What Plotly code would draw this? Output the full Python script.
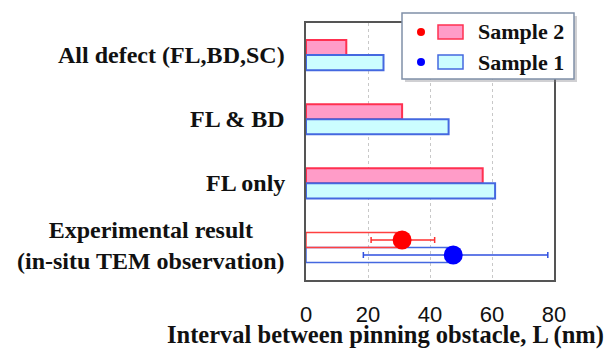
import plotly.graph_objects as go

categories = ["All defect (FL,BD,SC)", "FL & BD", "FL only",
              "Experimental result<br>(in-situ TEM observation)"]
sim_categories = categories[:3]
exp_category = categories[3]
sample2_sim = [13, 31, 57]
sample1_sim = [25, 46, 61]
sample2_exp = 31
sample2_exp_lo = 21
sample2_exp_hi = 41.5
sample1_exp = 47.5
sample1_exp_lo = 18.5
sample1_exp_hi = 78
series_names = ["Sample 2", "Sample 1"]
x_ticks = [0, 20, 40, 60, 80]
x_title = "Interval between pinning obstacle, L (nm)"

W, H = 611, 352
L, R, T, B = 306, 554, 23, 280

PINK = "#ff9cc8"
PINK_LINE = "#ff3050"
CYAN = "#ccfdff"
BLUE_LINE = "#4468e0"
SERIF = "Liberation Serif, Times New Roman, serif"

def px(X):
    return (X - L) / (R - L)

def py(Y):
    return (B - Y) / (B - T)

fig = go.Figure()
fig.add_trace(go.Bar(y=sim_categories, x=sample2_sim, orientation="h", name=series_names[0],
                     offsetgroup="s2", marker=dict(color=PINK, line=dict(color=PINK_LINE, width=2)),
                     showlegend=False))
fig.add_trace(go.Bar(y=sim_categories, x=sample1_sim, orientation="h", name=series_names[1],
                     offsetgroup="s1", marker=dict(color=CYAN, line=dict(color=BLUE_LINE, width=2)),
                     showlegend=False))
fig.add_trace(go.Bar(y=[exp_category], x=[sample1_exp], orientation="h", name=series_names[1],
                     offsetgroup="s1", marker=dict(color="rgba(0,0,0,0)", line=dict(color=BLUE_LINE, width=1.5)),
                     showlegend=False))
fig.add_trace(go.Bar(y=[exp_category], x=[sample2_exp], orientation="h", name=series_names[0],
                     offsetgroup="s2", marker=dict(color="rgba(0,0,0,0)", line=dict(color="#ff4040", width=1.5)),
                     showlegend=False))
fig.add_trace(go.Scatter(y=[exp_category], x=[sample2_exp], mode="markers", offsetgroup="s2",
                         alignmentgroup="exp", orientation="h",
                         marker=dict(color="#ff0000", size=19),
                         error_x=dict(type="data", symmetric=False,
                                      array=[sample2_exp_hi - sample2_exp],
                                      arrayminus=[sample2_exp - sample2_exp_lo],
                                      color="#ff3030", thickness=1.5, width=3),
                         showlegend=False))
fig.add_trace(go.Scatter(y=[exp_category], x=[sample1_exp], mode="markers", offsetgroup="s1",
                         alignmentgroup="exp", orientation="h",
                         marker=dict(color="#0000ff", size=19),
                         error_x=dict(type="data", symmetric=False,
                                      array=[sample1_exp_hi - sample1_exp],
                                      arrayminus=[sample1_exp - sample1_exp_lo],
                                      color="#3050e0", thickness=1.5, width=3),
                         showlegend=False))

annotations = []
for c in categories:
    annotations.append(dict(x=px(287), y=c, xref="paper", yref="y", xanchor="right",
                            yanchor="middle", align="center", showarrow=False,
                            text="<b>%s</b>" % c, yshift=2 if "<br>" in c else 0,
                            font=dict(family=SERIF, size=24, color="#111")))
annotations.append(dict(x=px(385), y=py(351), xref="paper", yref="paper", xanchor="center",
                        yanchor="bottom", showarrow=False, text="<b>%s</b>" % x_title,
                        font=dict(family=SERIF, size=24.5, color="#111")))

# legend (manual)
shapes = []
shapes.append(dict(type="rect", xref="paper", yref="paper", x0=px(405), x1=px(577), y0=py(16), y1=py(82),
                   fillcolor="rgba(120,120,130,0.35)", line=dict(width=0), layer="above"))
shapes.append(dict(type="rect", xref="paper", yref="paper", x0=px(402), x1=px(574), y0=py(13), y1=py(79),
                   fillcolor="white", line=dict(color="#8090a8", width=1.5), layer="above"))
legend_rows = [(32, "#ff0000", PINK, PINK_LINE, series_names[0]),
               (62, "#0000ff", CYAN, BLUE_LINE, series_names[1])]
for yc, dotc, fillc, linec, name in legend_rows:
    shapes.append(dict(type="circle", xref="paper", yref="paper", x0=px(417), x1=px(425),
                       y0=py(yc + 4), y1=py(yc - 4), fillcolor=dotc, line=dict(width=0), layer="above"))
    shapes.append(dict(type="rect", xref="paper", yref="paper", x0=px(438), x1=px(463),
                       y0=py(yc + 7), y1=py(yc - 7), fillcolor=fillc, line=dict(color=linec, width=1.5),
                       layer="above"))
    annotations.append(dict(x=px(476), y=py(yc), xref="paper", yref="paper", xanchor="left",
                            yanchor="middle", showarrow=False, text="<b>%s</b>" % name,
                            font=dict(family=SERIF, size=22, color="#111")))

fig.update_layout(
    width=W, height=H,
    margin=dict(l=L, r=W - R, t=T, b=H - B, pad=0),
    paper_bgcolor="white", plot_bgcolor="white",
    barmode="group", bargap=0.53, bargroupgap=0,
    scattermode="group", scattergap=0.53,
    showlegend=False,
    annotations=annotations, shapes=shapes,
)
fig.update_xaxes(range=[0, 80], tickvals=x_ticks, showgrid=True, gridcolor="#c8c8c8",
                 griddash="dot", gridwidth=1, zeroline=False, showline=True, mirror=True,
                 linecolor="#555", linewidth=2, ticks="", ticklabelstandoff=14,
                 tickfont=dict(family="Liberation Sans, Arial, sans-serif", size=22, color="#111"))
fig.update_yaxes(categoryorder="array", categoryarray=categories, autorange="reversed",
                 showticklabels=False, showgrid=False, zeroline=False, showline=True,
                 mirror=True, linecolor="#555", linewidth=2, ticks="")

fig.write_html("out.html", config={"displayModeBar": False},
               post_script="document.body.style.margin='0px';document.body.style.overflow='hidden';")
